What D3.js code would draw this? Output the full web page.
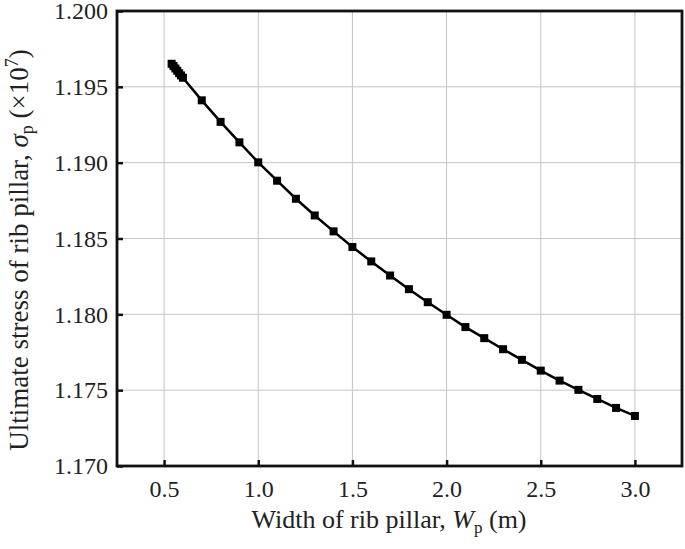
<!DOCTYPE html>
<html>
<head>
<meta charset="utf-8">
<script src="https://cdn.jsdelivr.net/npm/d3@7"></script>
<style>
  body { margin: 0; background: #fff; }
  text { font-family: "Liberation Serif", "Times New Roman", serif; fill: #222; }
</style>
</head>
<body>
<svg id="chart" width="685" height="549"></svg>
<script>
// data
var widths = [0.54, 0.55, 0.56, 0.57, 0.58, 0.59, 0.60, 0.7, 0.8, 0.9, 1.0, 1.1, 1.2, 1.3, 1.4, 1.5, 1.6, 1.7,
  1.8, 1.9, 2.0, 2.1, 2.2, 2.3, 2.4, 2.5, 2.6, 2.7, 2.8, 2.9, 3.0];
var stress = [1.19652, 1.19637, 1.19621, 1.19606, 1.19590, 1.19575, 1.19560, 1.19411, 1.19269, 1.19134, 1.19002,
  1.18881, 1.18762, 1.18652, 1.18547, 1.18444, 1.18349, 1.18256, 1.18166, 1.18080, 1.17997, 1.17916,
  1.17843, 1.17770, 1.17700, 1.17629, 1.17563, 1.17502, 1.17442, 1.17383, 1.17330];
var xTicks = [0.5, 1.0, 1.5, 2.0, 2.5, 3.0];
var yTicks = [1.170, 1.175, 1.180, 1.185, 1.190, 1.195, 1.200];

var data = widths.map((w, i) => ({ w: w, s: stress[i] }));

var svg = d3.select("#chart"),
  margin = { top: 11, left: 117, bottom: 83, right: 3 },
  width = +svg.attr("width") - margin.left - margin.right,
  height = +svg.attr("height") - margin.top - margin.bottom;

var x = d3.scaleLinear().domain([0.25, 3.25]).range([margin.left, margin.left + width]);
var y = d3.scaleLinear().domain([1.170, 1.200]).range([margin.top + height, margin.top]);

// grid
svg.append("g")
  .selectAll("line")
  .data(xTicks)
  .enter().append("line")
  .attr("x1", d => x(d)).attr("x2", d => x(d))
  .attr("y1", margin.top).attr("y2", margin.top + height)
  .attr("stroke", "#c4c4c4").attr("stroke-width", 1);

svg.append("g")
  .selectAll("line")
  .data(yTicks.slice(1, -1))
  .enter().append("line")
  .attr("x1", margin.left).attr("x2", margin.left + width)
  .attr("y1", d => y(d)).attr("y2", d => y(d))
  .attr("stroke", "#c4c4c4").attr("stroke-width", 1);

// axes (inward ticks)
var xAxis = svg.append("g")
  .attr("transform", `translate(0,${margin.top + height})`)
  .call(d3.axisBottom(x).tickValues(xTicks).tickFormat(d3.format(".1f")).tickSizeInner(-6).tickSizeOuter(0).tickPadding(14));

var yAxis = svg.append("g")
  .attr("transform", `translate(${margin.left},0)`)
  .call(d3.axisLeft(y).tickValues(yTicks).tickFormat(d3.format(".3f")).tickSizeInner(-6).tickSizeOuter(0).tickPadding(9));

[xAxis, yAxis].forEach(function (g) {
  g.select(".domain").remove();
  g.selectAll(".tick line").attr("stroke", "#111").attr("stroke-width", 2.5);
  g.selectAll(".tick text")
    .style("font-family", "'Liberation Serif', serif")
    .style("font-size", "24px")
    .attr("fill", "#222");
});

// frame
svg.append("rect")
  .attr("x", margin.left).attr("y", margin.top)
  .attr("width", width).attr("height", height)
  .attr("fill", "none").attr("stroke", "#111").attr("stroke-width", 2.8);

// line + markers
var line = d3.line().x(d => x(d.w)).y(d => y(d.s));

svg.append("path")
  .datum(data)
  .attr("d", line)
  .attr("fill", "none")
  .attr("stroke", "#000")
  .attr("stroke-width", 2.5);

svg.append("g")
  .selectAll("rect")
  .data(data)
  .enter().append("rect")
  .attr("x", d => x(d.w) - 4)
  .attr("y", d => y(d.s) - 4)
  .attr("width", 8).attr("height", 8)
  .attr("fill", "#000");

// x title
var xt = svg.append("text")
  .attr("x", 389)
  .attr("y", 528)
  .attr("text-anchor", "middle")
  .style("font-size", "26px");
xt.append("tspan").text("Width of rib pillar, ");
xt.append("tspan").style("font-style", "italic").text("W");
xt.append("tspan").attr("dy", 5).style("font-size", "17px").text("p");
xt.append("tspan").attr("dy", -5).text(" (m)");

// y title
var yt = svg.append("text")
  .attr("transform", `translate(28,250) rotate(-90)`)
  .attr("text-anchor", "middle")
  .style("font-size", "27px");
yt.append("tspan").text("Ultimate stress of rib pillar, ");
yt.append("tspan").style("font-style", "italic").text("σ");
yt.append("tspan").attr("dy", 5).style("font-size", "18px").text("p");
yt.append("tspan").attr("dy", -5).text(" (×10");
yt.append("tspan").attr("dy", -10).style("font-size", "18px").text("7");
yt.append("tspan").attr("dy", 10).text(")");
</script>
</body>
</html>
